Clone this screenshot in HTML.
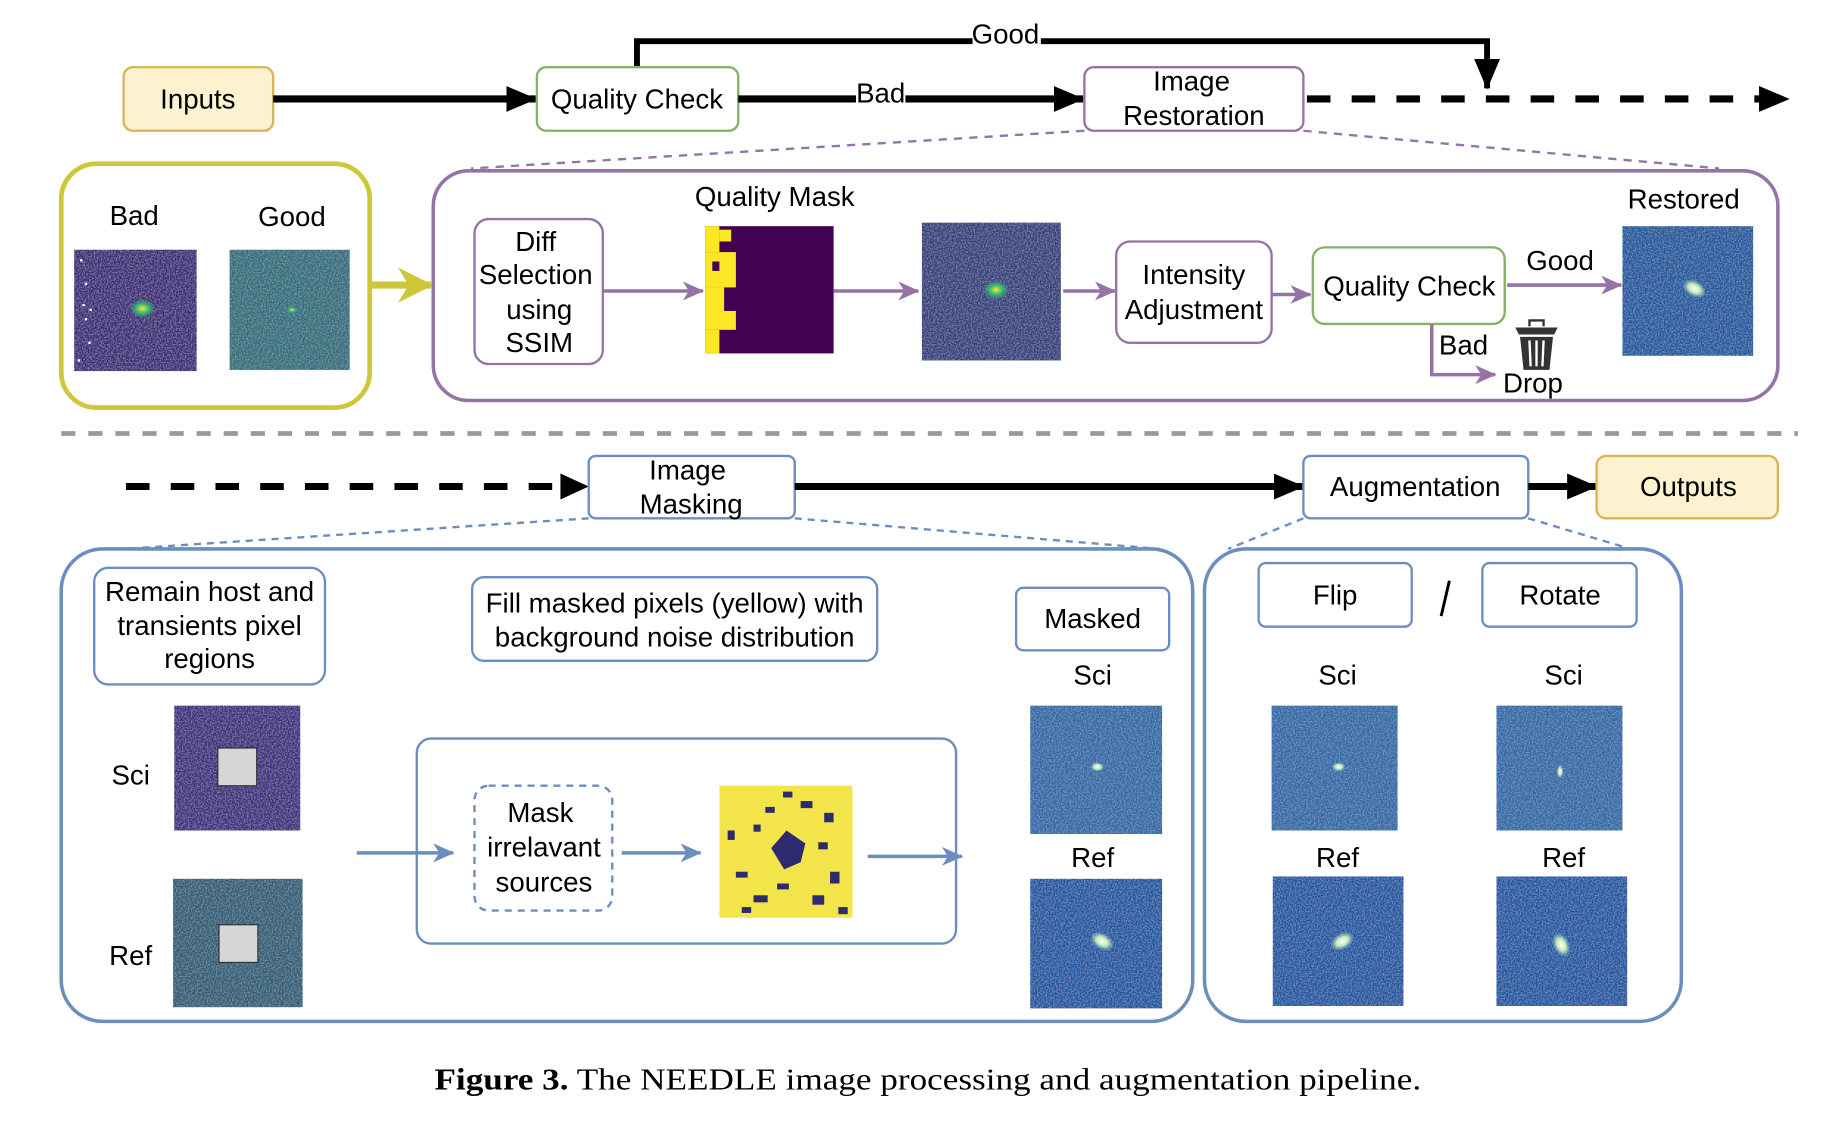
<!DOCTYPE html>
<html><head><meta charset="utf-8"><style>
html,body{margin:0;padding:0;background:#fff;}
svg{display:block;}
text{font-family:"Liberation Sans",sans-serif;font-size:23.5px;fill:#000;text-anchor:middle;}
</style></head><body>
<svg width="1845" height="1125" viewBox="0 0 1567 955" preserveAspectRatio="none" xmlns="http://www.w3.org/2000/svg">
<defs>
<marker id="akb" markerWidth="26" markerHeight="22" refX="25" refY="11" orient="auto" markerUnits="userSpaceOnUse"><path d="M0,0 L26,11 L0,22z" fill="#000"/></marker>
<marker id="ap" markerWidth="18" markerHeight="16" refX="17" refY="8" orient="auto" markerUnits="userSpaceOnUse"><path d="M0,0 L18,8 L0,16 L5,8z" fill="#9673a6"/></marker>
<marker id="ab" markerWidth="18" markerHeight="16" refX="17" refY="8" orient="auto" markerUnits="userSpaceOnUse"><path d="M0,0 L18,8 L0,16 L5,8z" fill="#6c8ebf"/></marker>
<marker id="ay" markerWidth="30" markerHeight="30" refX="28" refY="15" orient="auto" markerUnits="userSpaceOnUse"><path d="M0,0 L30,15 L0,30 L9,15z" fill="#cdc83a"/></marker>
<filter id="nz" x="0" y="0" width="1" height="1"><feTurbulence type="fractalNoise" baseFrequency="0.8" numOctaves="1" seed="3" result="t"/><feColorMatrix in="t" type="matrix" values="0 0 0 0 1  0 0 0 0 1  0 0 0 0 1  0.5 0 0 0 -0.2" result="w"/><feComposite in="w" in2="SourceGraphic" operator="in" result="wc"/><feMerge><feMergeNode in="SourceGraphic"/><feMergeNode in="wc"/></feMerge></filter>
<radialGradient id="spY"><stop offset="0" stop-color="#fde725"/><stop offset="0.5" stop-color="#35b779"/><stop offset="1" stop-color="#35b779" stop-opacity="0"/></radialGradient>
<radialGradient id="spW"><stop offset="0" stop-color="#ffffff"/><stop offset="0.5" stop-color="#c6e8b4"/><stop offset="1" stop-color="#7fc8c0" stop-opacity="0"/></radialGradient>
</defs>

<path d="M541,57 V35 H1263 V75" fill="none" stroke="#000" stroke-width="5" marker-end="url(#akb)"/>
<rect x="826" y="18" width="58" height="24" fill="#fff"/><text x="854" y="37">Good</text>
<rect x="105" y="57" width="127" height="54" rx="8" fill="#fdf2cf" stroke="#d6b656" stroke-width="2"/><text x="168" y="92">Inputs</text>
<line x1="232" y1="84" x2="455" y2="84" stroke="#000" stroke-width="6" marker-end="url(#akb)"/>
<rect x="456" y="57" width="171" height="54" rx="8" fill="#fff" stroke="#82b366" stroke-width="2"/><text x="541" y="92">Quality Check</text>
<line x1="627" y1="84" x2="920" y2="84" stroke="#000" stroke-width="6" marker-end="url(#akb)"/>
<rect x="727" y="68" width="42" height="24" fill="#fff"/><text x="748" y="87">Bad</text>
<rect x="921" y="57" width="186" height="54" rx="8" fill="#fff" stroke="#9673a6" stroke-width="2"/><text x="1012" y="77">Image</text><text x="1014" y="106">Restoration</text>
<line x1="1110" y1="84" x2="1500" y2="84" stroke="#000" stroke-width="6" stroke-dasharray="20,18"/>
<path d="M1494,73 L1520,84 L1494,95z" fill="#000"/>
<line x1="921" y1="111" x2="400" y2="143" stroke="#9673a6" stroke-width="2" stroke-dasharray="7,6"/>
<line x1="1107" y1="111" x2="1460" y2="143" stroke="#9673a6" stroke-width="2" stroke-dasharray="7,6"/>

<rect x="52" y="139" width="262" height="207" rx="30" fill="#fff" stroke="#cdc83a" stroke-width="4"/>
<text x="114" y="191">Bad</text><text x="248" y="192">Good</text>
<rect x="63" y="212" width="104" height="103" fill="#3b2a7a" filter="url(#nz)"/>
<ellipse cx="121" cy="262" rx="11" ry="8" fill="url(#spY)"/>
<g fill="#fff"><rect x="68" y="220" width="2" height="2"/><rect x="72" y="240" width="2" height="2"/><rect x="70" y="258" width="2" height="2"/><rect x="76" y="262" width="2" height="2"/><rect x="72" y="270" width="2" height="2"/><rect x="75" y="290" width="2" height="2"/><rect x="66" y="305" width="2" height="2"/></g>
<rect x="195" y="212" width="102" height="102" fill="#2e6e7e" filter="url(#nz)"/>
<ellipse cx="248" cy="263" rx="5" ry="3" fill="url(#spY)"/>
<line x1="314" y1="242" x2="366" y2="242" stroke="#cdc83a" stroke-width="6" marker-end="url(#ay)"/>

<rect x="368" y="145" width="1142" height="195" rx="30" fill="none" stroke="#9673a6" stroke-width="3"/>
<rect x="403" y="186" width="109" height="123" rx="12" fill="#fff" stroke="#9673a6" stroke-width="2"/>
<text x="455" y="213">Diff</text><text x="455" y="241">Selection</text><text x="458" y="271">using</text><text x="458" y="299">SSIM</text>
<line x1="512" y1="247" x2="597" y2="247" stroke="#9673a6" stroke-width="3" marker-end="url(#ap)"/>
<text x="658" y="175">Quality Mask</text>
<rect x="599" y="192" width="109" height="108" fill="#440154"/>
<g fill="#fde725"><rect x="599" y="192" width="12" height="22"/><rect x="611" y="195" width="10" height="10"/><rect x="599" y="214" width="26" height="30"/><rect x="599" y="244" width="16" height="20"/><rect x="599" y="264" width="26" height="16"/><rect x="599" y="280" width="12" height="20"/></g>
<rect x="605" y="222" width="6" height="8" fill="#440154"/>
<line x1="708" y1="247" x2="780" y2="247" stroke="#9673a6" stroke-width="3" marker-end="url(#ap)"/>
<rect x="783" y="189" width="118" height="117" fill="#33407f" filter="url(#nz)"/>
<ellipse cx="846" cy="246" rx="11" ry="8" fill="url(#spY)"/>
<line x1="903" y1="247" x2="947" y2="247" stroke="#9673a6" stroke-width="3" marker-end="url(#ap)"/>
<rect x="948" y="205" width="132" height="86" rx="12" fill="#fff" stroke="#9673a6" stroke-width="2"/>
<text x="1014" y="241">Intensity</text><text x="1014" y="271">Adjustment</text>
<line x1="1080" y1="250" x2="1113" y2="250" stroke="#9673a6" stroke-width="3" marker-end="url(#ap)"/>
<rect x="1115" y="210" width="163" height="65" rx="10" fill="#fff" stroke="#82b366" stroke-width="2"/>
<text x="1197" y="251">Quality Check</text>
<line x1="1280" y1="242" x2="1377" y2="242" stroke="#9673a6" stroke-width="3" marker-end="url(#ap)"/>
<text x="1325" y="229">Good</text>
<text x="1430" y="177">Restored</text>
<rect x="1378" y="192" width="111" height="110" fill="#1f5a9e" filter="url(#nz)"/>
<ellipse cx="1439" cy="245" rx="11" ry="7" fill="url(#spW)" transform="rotate(30 1439 245)"/>
<path d="M1216,275 V318 H1270" fill="none" stroke="#9673a6" stroke-width="3" marker-end="url(#ap)"/>
<text x="1243" y="301">Bad</text><text x="1302" y="333">Drop</text>
<g fill="#333"><path d="M1287,278 H1323 L1320,284 H1290z"/><path d="M1291,286 H1319 L1316,314 H1294z"/><path d="M1299,277 v-5 h12 v5" fill="none" stroke="#333" stroke-width="2"/></g>
<g stroke="#fff" stroke-width="2"><line x1="1299" y1="289" x2="1300" y2="311"/><line x1="1305" y1="289" x2="1305" y2="311"/><line x1="1311" y1="289" x2="1310" y2="311"/></g>

<line x1="52" y1="368" x2="1527" y2="368" stroke="#999" stroke-width="4" stroke-dasharray="12,11"/>

<line x1="107" y1="413" x2="480" y2="413" stroke="#000" stroke-width="6" stroke-dasharray="20,18"/>
<path d="M476,402 L500,413 L476,424z" fill="#000"/>
<rect x="500" y="387" width="175" height="53" rx="6" fill="#fff" stroke="#6c8ebf" stroke-width="2"/>
<text x="584" y="407">Image</text><text x="587" y="436">Masking</text>
<line x1="675" y1="413" x2="1107" y2="413" stroke="#000" stroke-width="6" marker-end="url(#akb)"/>
<rect x="1107" y="387" width="191" height="53" rx="6" fill="#fff" stroke="#6c8ebf" stroke-width="2"/><text x="1202" y="421">Augmentation</text>
<line x1="1298" y1="413" x2="1356" y2="413" stroke="#000" stroke-width="6" marker-end="url(#akb)"/>
<rect x="1356" y="387" width="154" height="53" rx="8" fill="#fdf2cf" stroke="#d6b656" stroke-width="2"/><text x="1434" y="421">Outputs</text>
<g stroke="#6c8ebf" stroke-width="2" stroke-dasharray="6,5"><line x1="500" y1="440" x2="105" y2="466"/><line x1="675" y1="440" x2="985" y2="466"/><line x1="1107" y1="440" x2="1043" y2="466"/><line x1="1298" y1="440" x2="1385" y2="466"/></g>

<rect x="52" y="466" width="961" height="401" rx="35" fill="none" stroke="#6c8ebf" stroke-width="3"/>
<rect x="1023" y="466" width="405" height="401" rx="35" fill="none" stroke="#6c8ebf" stroke-width="3"/>
<rect x="80" y="482" width="196" height="99" rx="12" fill="#fff" stroke="#6c8ebf" stroke-width="2"/>
<text x="178" y="510">Remain host and</text><text x="178" y="539">transients pixel</text><text x="178" y="567">regions</text>
<rect x="401" y="490" width="344" height="71" rx="10" fill="#fff" stroke="#6c8ebf" stroke-width="2"/>
<text x="573" y="520">Fill masked pixels (yellow) with</text><text x="573" y="549">background noise distribution</text>
<rect x="863" y="499" width="130" height="53" rx="6" fill="#fff" stroke="#6c8ebf" stroke-width="2"/><text x="928" y="533">Masked</text>

<text x="111" y="666">Sci</text>
<rect x="148" y="599" width="107" height="106" fill="#3d2f80" filter="url(#nz)"/>
<rect x="185" y="635" width="33" height="32" fill="#d6d6d6" stroke="#333" stroke-width="1"/>
<text x="111" y="819">Ref</text>
<rect x="147" y="746" width="110" height="109" fill="#2e5f78" filter="url(#nz)"/>
<rect x="186" y="785" width="33" height="32" fill="#d6d6d6" stroke="#333" stroke-width="1"/>
<line x1="303" y1="724" x2="385" y2="724" stroke="#6c8ebf" stroke-width="3" marker-end="url(#ab)"/>
<rect x="354" y="627" width="458" height="174" rx="12" fill="none" stroke="#6c8ebf" stroke-width="2"/>
<rect x="403" y="667" width="117" height="106" rx="12" fill="#fff" stroke="#6c8ebf" stroke-width="2" stroke-dasharray="6,5"/>
<text x="459" y="698">Mask</text><text x="462" y="727">irrelavant</text><text x="462" y="757">sources</text>
<line x1="528" y1="724" x2="595" y2="724" stroke="#6c8ebf" stroke-width="3" marker-end="url(#ab)"/>
<rect x="611" y="667" width="113" height="112" fill="#f3e44a"/>
<g fill="#2d2a6e"><path d="M655,720 L668,705 L684,716 L680,732 L666,738z"/><rect x="650" y="685" width="8" height="5"/><rect x="680" y="680" width="10" height="6"/><rect x="700" y="690" width="8" height="8"/><rect x="625" y="740" width="10" height="5"/><rect x="640" y="760" width="12" height="6"/><rect x="690" y="760" width="10" height="8"/><rect x="705" y="740" width="8" height="10"/><rect x="618" y="705" width="6" height="8"/><rect x="630" y="770" width="8" height="5"/><rect x="712" y="770" width="8" height="6"/><rect x="665" y="672" width="8" height="5"/><rect x="640" y="700" width="6" height="6"/><rect x="695" y="715" width="8" height="6"/><rect x="660" y="750" width="10" height="5"/></g>
<line x1="737" y1="727" x2="817" y2="727" stroke="#6c8ebf" stroke-width="3" marker-end="url(#ab)"/>

<text x="928" y="581">Sci</text>
<rect x="875" y="599" width="112" height="109" fill="#2f6aa8" filter="url(#nz)"/>
<ellipse cx="932" cy="651" rx="6" ry="4" fill="url(#spW)"/>
<text x="928" y="736">Ref</text>
<rect x="875" y="746" width="112" height="110" fill="#1f59a3" filter="url(#nz)"/>
<ellipse cx="936" cy="799" rx="11" ry="7" fill="url(#spW)" transform="rotate(30 936 799)"/>

<rect x="1069" y="478" width="130" height="54" rx="6" fill="#fff" stroke="#6c8ebf" stroke-width="2"/><text x="1134" y="513">Flip</text>
<line x1="1231" y1="493" x2="1224" y2="523" stroke="#000" stroke-width="2.5"/>
<rect x="1259" y="478" width="131" height="54" rx="6" fill="#fff" stroke="#6c8ebf" stroke-width="2"/><text x="1325" y="513">Rotate</text>
<text x="1136" y="581">Sci</text><text x="1328" y="581">Sci</text>
<rect x="1080" y="599" width="107" height="106" fill="#2f6aa8" filter="url(#nz)"/>
<ellipse cx="1137" cy="651" rx="6" ry="4" fill="url(#spW)"/>
<rect x="1271" y="599" width="107" height="106" fill="#2f6aa8" filter="url(#nz)"/>
<ellipse cx="1325" cy="655" rx="3" ry="6" fill="url(#spW)"/>
<text x="1136" y="736">Ref</text><text x="1328" y="736">Ref</text>
<rect x="1081" y="744" width="111" height="110" fill="#1f59a3" filter="url(#nz)"/>
<ellipse cx="1140" cy="799" rx="11" ry="7" fill="url(#spW)" transform="rotate(-30 1140 799)"/>
<rect x="1271" y="744" width="111" height="110" fill="#1f59a3" filter="url(#nz)"/>
<ellipse cx="1326" cy="802" rx="7" ry="11" fill="url(#spW)" transform="rotate(-25 1326 802)"/>

<text x="788" y="925" textLength="838" lengthAdjust="spacingAndGlyphs" style="font-family:'Liberation Serif',serif;font-size:26px;"><tspan font-weight="bold">Figure 3.</tspan> The NEEDLE image processing and augmentation pipeline.</text>
</svg>
</body></html>
